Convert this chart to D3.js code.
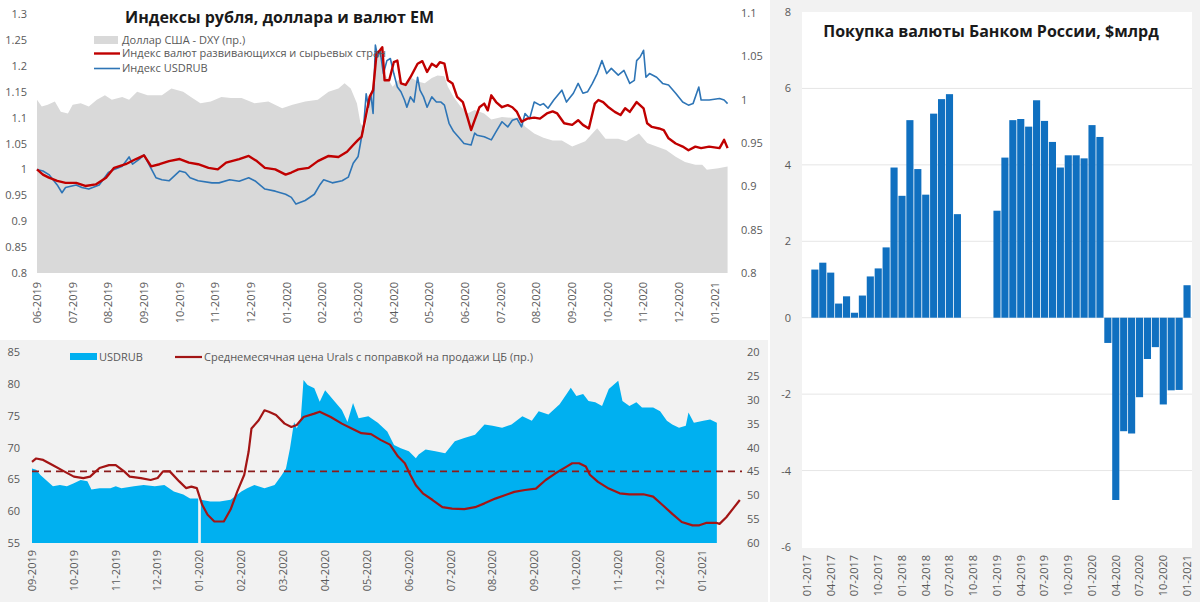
<!DOCTYPE html>
<html><head><meta charset="utf-8">
<script src="https://cdn.jsdelivr.net/npm/d3@7"></script>
<style>
body{margin:0;background:#fff;}
text{font-family:"Open Sans","Noto Sans",sans-serif;}
</style>
</head><body>
<svg id="c" width="1200" height="602"></svg>
<script>
// ---------- DATA ----------
const topMonths = ["06-2019","07-2019","08-2019","09-2019","10-2019","11-2019","12-2019","01-2020","02-2020","03-2020","04-2020","05-2020","06-2020","07-2020","08-2020","09-2020","10-2020","11-2020","12-2020","01-2021"];
const topLeftTicks = [0.8,0.85,0.9,0.95,1,1.05,1.1,1.15,1.2,1.25,1.3];
const topRightTicks = [0.8,0.85,0.9,0.95,1,1.05,1.1];
const topTitle = "Индексы рубля, доллара и валют EM";
const topLegend = ["Доллар США - DXY (пр.)","Индекс валют развивающихся и сырьевых стран","Индекс USDRUB"];

const dxyIndex = [["2019-06-01",1.000],["2019-06-05",0.992],["2019-06-10",0.994],["2019-06-16",0.998],["2019-06-21",0.986],["2019-06-27",0.984],["2019-07-01",0.994],["2019-07-08",0.996],["2019-07-15",0.992],["2019-07-22",1.000],["2019-07-29",1.005],["2019-08-04",1.000],["2019-08-13",1.003],["2019-08-19",1.000],["2019-08-26",1.009],["2019-09-04",1.005],["2019-09-16",1.005],["2019-09-24",1.013],["2019-10-04",1.009],["2019-10-12",1.002],["2019-10-19",0.996],["2019-10-28",0.998],["2019-11-06",1.003],["2019-11-14",1.002],["2019-11-23",1.002],["2019-12-04",0.996],["2019-12-16",0.998],["2019-12-28",0.990],["2020-01-06",0.994],["2020-01-17",0.998],["2020-01-28",1.000],["2020-02-06",1.009],["2020-02-14",1.013],["2020-02-19",1.019],["2020-02-24",1.013],["2020-02-29",0.996],["2020-03-03",0.973],["2020-03-07",0.965],["2020-03-12",1.003],["2020-03-17",1.053],["2020-03-20",1.057],["2020-03-24",1.030],["2020-03-31",1.015],["2020-04-05",1.023],["2020-04-10",1.017],["2020-04-16",1.025],["2020-04-21",1.021],["2020-04-27",1.019],["2020-05-03",1.025],["2020-05-08",1.028],["2020-05-14",1.027],["2020-05-17",1.015],["2020-05-22",1.003],["2020-05-28",0.992],["2020-06-03",0.984],["2020-06-09",0.988],["2020-06-17",0.984],["2020-06-23",0.977],["2020-07-02",0.980],["2020-07-10",0.979],["2020-07-17",0.979],["2020-07-22",0.969],["2020-07-30",0.961],["2020-08-07",0.956],["2020-08-15",0.953],["2020-08-23",0.953],["2020-09-01",0.946],["2020-09-12",0.952],["2020-09-22",0.967],["2020-09-29",0.955],["2020-10-10",0.955],["2020-10-17",0.952],["2020-10-28",0.961],["2020-11-04",0.950],["2020-11-12",0.946],["2020-11-20",0.942],["2020-11-28",0.934],["2020-12-06",0.928],["2020-12-15",0.925],["2020-12-21",0.925],["2020-12-25",0.919],["2021-01-04",0.921],["2021-01-12",0.923]];

const emIndex = [["2019-06-01",1.000],["2019-06-06",0.990],["2019-06-11",0.984],["2019-06-18",0.978],["2019-06-25",0.974],["2019-07-04",0.974],["2019-07-12",0.968],["2019-07-21",0.971],["2019-07-30",0.984],["2019-08-06",1.003],["2019-08-16",1.010],["2019-08-25",1.020],["2019-09-01",1.027],["2019-09-07",1.006],["2019-09-14",1.010],["2019-09-22",1.016],["2019-10-01",1.020],["2019-10-09",1.013],["2019-10-17",1.010],["2019-10-26",1.003],["2019-11-03",1.000],["2019-11-10",1.013],["2019-11-21",1.020],["2019-11-29",1.026],["2019-12-06",1.016],["2019-12-13",1.003],["2019-12-22",1.000],["2019-12-31",0.990],["2020-01-05",0.994],["2020-01-11",1.000],["2020-01-20",1.003],["2020-01-28",1.016],["2020-02-06",1.026],["2020-02-14",1.024],["2020-02-21",1.034],["2020-02-26",1.047],["2020-03-01",1.057],["2020-03-04",1.063],["2020-03-07",1.095],["2020-03-11",1.140],["2020-03-14",1.153],["2020-03-17",1.223],["2020-03-20",1.230],["2020-03-22",1.236],["2020-03-24",1.172],["2020-03-28",1.172],["2020-04-01",1.207],["2020-04-04",1.210],["2020-04-07",1.166],["2020-04-11",1.163],["2020-04-15",1.178],["2020-04-18",1.191],["2020-04-21",1.204],["2020-04-25",1.209],["2020-04-29",1.188],["2020-05-03",1.204],["2020-05-07",1.198],["2020-05-10",1.207],["2020-05-14",1.204],["2020-05-17",1.172],["2020-05-21",1.166],["2020-05-25",1.140],["2020-05-30",1.130],["2020-06-03",1.100],["2020-06-06",1.076],["2020-06-09",1.095],["2020-06-13",1.120],["2020-06-17",1.127],["2020-06-20",1.114],["2020-06-23",1.143],["2020-06-27",1.130],["2020-07-02",1.120],["2020-07-07",1.124],["2020-07-11",1.120],["2020-07-15",1.111],["2020-07-19",1.092],["2020-07-24",1.098],["2020-07-30",1.100],["2020-08-04",1.098],["2020-08-10",1.108],["2020-08-15",1.112],["2020-08-19",1.108],["2020-08-25",1.089],["2020-09-01",1.086],["2020-09-06",1.095],["2020-09-10",1.086],["2020-09-15",1.079],["2020-09-20",1.127],["2020-09-23",1.134],["2020-09-27",1.130],["2020-10-01",1.121],["2020-10-07",1.111],["2020-10-12",1.105],["2020-10-16",1.118],["2020-10-20",1.111],["2020-10-26",1.130],["2020-11-01",1.118],["2020-11-04",1.089],["2020-11-08",1.082],["2020-11-14",1.079],["2020-11-18",1.076],["2020-11-22",1.060],["2020-11-28",1.050],["2020-12-04",1.044],["2020-12-09",1.037],["2020-12-15",1.044],["2020-12-20",1.041],["2020-12-27",1.044],["2021-01-05",1.041],["2021-01-09",1.057],["2021-01-12",1.041]];

const rubIndex = [["2019-06-01",1.000],["2019-06-06",0.997],["2019-06-11",0.990],["2019-06-18",0.970],["2019-06-22",0.955],["2019-06-25",0.965],["2019-07-04",0.970],["2019-07-09",0.965],["2019-07-15",0.962],["2019-07-24",0.970],["2019-08-01",0.994],["2019-08-06",1.000],["2019-08-13",1.006],["2019-08-19",1.024],["2019-08-22",1.010],["2019-08-28",1.020],["2019-09-01",1.028],["2019-09-05",1.010],["2019-09-11",0.984],["2019-09-16",0.980],["2019-09-22",0.978],["2019-10-01",0.997],["2019-10-06",0.994],["2019-10-10",0.984],["2019-10-17",0.978],["2019-10-29",0.974],["2019-11-04",0.974],["2019-11-13",0.980],["2019-11-21",0.977],["2019-11-29",0.984],["2019-12-05",0.977],["2019-12-13",0.962],["2019-12-22",0.958],["2019-12-31",0.952],["2020-01-05",0.946],["2020-01-09",0.933],["2020-01-17",0.940],["2020-01-25",0.952],["2020-01-30",0.971],["2020-02-02",0.980],["2020-02-09",0.974],["2020-02-17",0.978],["2020-02-22",0.985],["2020-02-26",1.012],["2020-03-01",1.025],["2020-03-03",1.050],["2020-03-06",1.089],["2020-03-08",1.146],["2020-03-10",1.120],["2020-03-12",1.146],["2020-03-14",1.108],["2020-03-16",1.240],["2020-03-18",1.217],["2020-03-20",1.230],["2020-03-23",1.185],["2020-03-26",1.210],["2020-03-29",1.214],["2020-04-01",1.185],["2020-04-04",1.159],["2020-04-07",1.150],["2020-04-10",1.134],["2020-04-12",1.120],["2020-04-15",1.140],["2020-04-18",1.130],["2020-04-21",1.178],["2020-04-23",1.153],["2020-04-26",1.140],["2020-04-29",1.120],["2020-05-03",1.140],["2020-05-07",1.130],["2020-05-11",1.130],["2020-05-14",1.124],["2020-05-18",1.089],["2020-05-22",1.073],["2020-05-26",1.063],["2020-05-31",1.050],["2020-06-06",1.047],["2020-06-09",1.070],["2020-06-11",1.066],["2020-06-17",1.063],["2020-06-23",1.057],["2020-06-27",1.073],["2020-07-02",1.092],["2020-07-07",1.082],["2020-07-11",1.095],["2020-07-15",1.098],["2020-07-19",1.082],["2020-07-22",1.108],["2020-07-26",1.098],["2020-07-30",1.130],["2020-08-04",1.124],["2020-08-07",1.127],["2020-08-11",1.118],["2020-08-16",1.134],["2020-08-23",1.153],["2020-08-27",1.130],["2020-09-02",1.147],["2020-09-06",1.166],["2020-09-10",1.147],["2020-09-14",1.150],["2020-09-18",1.166],["2020-09-22",1.185],["2020-09-26",1.210],["2020-09-30",1.185],["2020-10-04",1.195],["2020-10-10",1.182],["2020-10-15",1.191],["2020-10-20",1.166],["2020-10-24",1.172],["2020-10-26",1.210],["2020-10-29",1.217],["2020-11-01",1.230],["2020-11-03",1.178],["2020-11-06",1.185],["2020-11-12",1.178],["2020-11-17",1.166],["2020-11-22",1.163],["2020-11-28",1.147],["2020-12-04",1.130],["2020-12-09",1.124],["2020-12-13",1.127],["2020-12-18",1.159],["2020-12-20",1.134],["2020-12-27",1.134],["2021-01-05",1.137],["2021-01-09",1.134],["2021-01-12",1.127]];

const bottomMonths = ["09-2019","10-2019","11-2019","12-2019","01-2020","02-2020","03-2020","04-2020","05-2020","06-2020","07-2020","08-2020","09-2020","10-2020","11-2020","12-2020","01-2021"];
const bottomLeftTicks = [55,60,65,70,75,80,85];
const bottomRightTicks = [20,25,30,35,40,45,50,55,60];
const bottomLegend = ["USDRUB","Среднемесячная цена Urals с поправкой на продажи ЦБ (пр.)"];
const uralsReference = 45;

const usdrub = [["2019-09-01",66.7],["2019-09-04",66.5],["2019-09-07",65.7],["2019-09-11",64.9],["2019-09-16",63.9],["2019-09-21",64.1],["2019-09-26",63.9],["2019-10-01",64.4],["2019-10-06",64.9],["2019-10-11",64.7],["2019-10-14",63.4],["2019-10-20",63.6],["2019-10-28",63.6],["2019-11-01",63.9],["2019-11-05",63.6],["2019-11-14",63.9],["2019-11-21",64.1],["2019-11-29",63.9],["2019-12-06",64.1],["2019-12-13",63.1],["2019-12-20",62.6],["2019-12-25",62.0],["2019-12-31",62.0],["2020-01-01",null],["2020-01-02",61.8],["2020-01-09",61.5],["2020-01-16",61.5],["2020-01-24",61.8],["2020-02-01",63.1],["2020-02-05",63.6],["2020-02-10",64.1],["2020-02-17",63.6],["2020-02-24",64.1],["2020-02-29",65.7],["2020-03-03",66.7],["2020-03-06",69.9],["2020-03-09",74.0],["2020-03-11",73.0],["2020-03-14",74.6],["2020-03-16",80.6],["2020-03-19",79.8],["2020-03-24",79.3],["2020-03-28",77.2],["2020-04-01",79.0],["2020-04-08",77.2],["2020-04-13",75.9],["2020-04-17",74.0],["2020-04-21",77.0],["2020-04-25",74.6],["2020-05-02",74.9],["2020-05-09",73.9],["2020-05-16",72.5],["2020-05-21",70.4],["2020-05-26",69.9],["2020-06-01",69.4],["2020-06-06",68.3],["2020-06-08",68.9],["2020-06-13",69.7],["2020-06-20",69.4],["2020-06-27",69.1],["2020-07-04",71.0],["2020-07-11",71.5],["2020-07-19",72.0],["2020-07-26",73.6],["2020-08-01",73.4],["2020-08-08",73.1],["2020-08-15",73.6],["2020-08-23",74.9],["2020-08-30",74.2],["2020-09-04",75.7],["2020-09-11",75.2],["2020-09-19",76.8],["2020-09-24",78.4],["2020-09-27",79.4],["2020-10-01",78.1],["2020-10-06",78.4],["2020-10-10",77.3],["2020-10-15",77.1],["2020-10-20",76.5],["2020-10-25",79.2],["2020-11-01",80.5],["2020-11-04",77.3],["2020-11-09",76.5],["2020-11-14",77.1],["2020-11-18",76.3],["2020-11-26",76.3],["2020-12-01",75.7],["2020-12-06",74.2],["2020-12-10",73.6],["2020-12-15",73.1],["2020-12-20",73.4],["2020-12-22",75.5],["2020-12-26",73.9],["2021-01-02",74.2],["2021-01-07",74.4],["2021-01-12",73.9]];

const urals = [["2019-09-01",43.0],["2019-09-04",42.3],["2019-09-09",42.6],["2019-09-16",43.7],["2019-09-24",45.0],["2019-10-01",46.1],["2019-10-08",46.4],["2019-10-13",46.1],["2019-10-20",44.3],["2019-10-27",43.7],["2019-11-01",43.7],["2019-11-07",45.0],["2019-11-11",46.1],["2019-11-19",46.4],["2019-11-26",46.8],["2019-12-01",46.4],["2019-12-05",45.0],["2019-12-10",45.0],["2019-12-17",47.1],["2019-12-22",48.5],["2019-12-26",48.2],["2019-12-30",48.5],["2020-01-03",52.0],["2020-01-07",54.1],["2020-01-12",55.5],["2020-01-19",55.5],["2020-01-24",53.0],["2020-01-29",49.2],["2020-02-03",45.7],["2020-02-06",40.9],["2020-02-08",36.0],["2020-02-13",34.3],["2020-02-17",32.2],["2020-02-20",32.5],["2020-02-25",33.2],["2020-03-02",35.0],["2020-03-07",35.7],["2020-03-11",35.3],["2020-03-16",33.6],["2020-03-24",32.9],["2020-03-28",32.5],["2020-04-05",33.6],["2020-04-13",35.0],["2020-04-20",36.0],["2020-04-27",37.0],["2020-05-04",37.2],["2020-05-11",38.4],["2020-05-18",39.4],["2020-05-24",41.9],["2020-05-29",43.3],["2020-06-02",45.7],["2020-06-06",47.9],["2020-06-11",49.6],["2020-06-18",51.0],["2020-06-25",52.5],["2020-07-02",52.8],["2020-07-11",52.9],["2020-07-19",52.5],["2020-07-26",51.7],["2020-08-03",50.7],["2020-08-10",50.0],["2020-08-17",49.3],["2020-08-25",48.9],["2020-09-02",48.6],["2020-09-09",46.8],["2020-09-16",45.4],["2020-09-24",44.0],["2020-09-28",43.3],["2020-10-03",43.3],["2020-10-08",44.0],["2020-10-11",45.7],["2020-10-17",47.2],["2020-10-25",48.6],["2020-11-02",49.6],["2020-11-09",49.8],["2020-11-19",49.8],["2020-11-26",50.3],["2020-12-03",52.1],["2020-12-10",53.9],["2020-12-17",55.6],["2020-12-25",56.3],["2020-12-30",56.3],["2021-01-04",55.8],["2021-01-12",55.8],["2021-01-14",56.0],["2021-01-19",54.6],["2021-01-24",52.8],["2021-01-29",51.0]];

const cbrTitle = "Покупка валюты Банком России, $млрд";
const cbrMonths = ["01-2017","02-2017","03-2017","04-2017","05-2017","06-2017","07-2017","08-2017","09-2017","10-2017","11-2017","12-2017","01-2018","02-2018","03-2018","04-2018","05-2018","06-2018","07-2018","08-2018","09-2018","10-2018","11-2018","12-2018","01-2019","02-2019","03-2019","04-2019","05-2019","06-2019","07-2019","08-2019","09-2019","10-2019","11-2019","12-2019","01-2020","02-2020","03-2020","04-2020","05-2020","06-2020","07-2020","08-2020","09-2020","10-2020","11-2020","12-2020","01-2021"];
const cbrPurchases = [0,1.26,1.44,1.18,0.37,0.56,0.13,0.58,1.08,1.29,1.84,3.93,3.19,5.17,3.89,3.22,5.34,5.72,5.85,2.71,0,0,0,0,2.80,4.19,5.17,5.20,5.00,5.69,5.15,4.60,3.93,4.25,4.25,4.17,5.04,4.73,-0.66,-4.77,-2.97,-3.03,-2.08,-1.08,-0.77,-2.27,-1.90,-1.89,0.85];
const cbrTicks = [-6,-4,-2,0,2,4,6,8];

// ---------- DRAW ----------
const svg = d3.select("#c");
const pd = d3.timeParse("%Y-%m-%d");
const pm = d3.timeParse("%m-%Y");
const tickColor = "#595959";

// panels
svg.append("rect").attr("x",0).attr("y",0).attr("width",768).attr("height",338).attr("fill","#ffffff");
svg.append("rect").attr("x",0).attr("y",340).attr("width",768).attr("height",262).attr("fill","#f2f2f2");
svg.append("rect").attr("x",770).attr("y",0).attr("width",430).attr("height",602).attr("fill","#f2f2f2");
svg.append("rect").attr("x",802).attr("y",12).attr("width",390).attr("height",536).attr("fill","#ffffff");

function monthScale(labels, x0, step){
  const dates = labels.map(pm);
  dates.push(d3.timeMonth.offset(dates[dates.length-1],1));
  return d3.scaleTime().domain(dates).range(dates.map((d,i)=>x0+i*step));
}
function yAxis(g, scale, ticks, fmt, side){
  const ax = (side==="left"? d3.axisLeft(scale): d3.axisRight(scale)).tickValues(ticks).tickSize(0).tickPadding(0).tickFormat(fmt);
  g.call(ax);
  g.select(".domain").remove();
  g.selectAll("text").attr("fill",tickColor).style("font-size","11px").style("font-family","'Open Sans',sans-serif");
}
function xLabels(g, labels, scale, yTop){
  g.selectAll("text").data(labels).join("text")
    .attr("transform", d => `translate(${scale(d)},${yTop}) rotate(-90)`)
    .attr("text-anchor","end").attr("dy","0.35em")
    .attr("fill",tickColor).style("font-size","11px")
    .text(d=>d);
}

// ===== Top-left chart =====
const xT = monthScale(topMonths, 37, 35.68);
const yTL = d3.scaleLinear().domain([0.8,1.3]).range([273,14]);
const yTR = d3.scaleLinear().domain([0.8,1.1]).range([273,13]);
const fmt2 = d => String(+d.toFixed(2));

svg.append("path").datum(dxyIndex)
  .attr("fill","#d9d9d9")
  .attr("d", d3.area().x(d=>xT(pd(d[0]))).y0(yTR(0.8)).y1(d=>yTR(d[1])));

const lineT = d3.line().x(d=>xT(pd(d[0]))).y(d=>yTL(d[1]));
svg.append("path").datum(rubIndex).attr("fill","none").attr("stroke","#2e75b6").attr("stroke-width",1.6).attr("stroke-linejoin","round").attr("d",lineT);
svg.append("path").datum(emIndex).attr("fill","none").attr("stroke","#c00000").attr("stroke-width",2.4).attr("stroke-linejoin","round").attr("d",lineT);

yAxis(svg.append("g").attr("transform","translate(27,0)"), yTL, topLeftTicks, fmt2, "left");
yAxis(svg.append("g").attr("transform","translate(741,0)"), yTR, topRightTicks, fmt2, "right");
xLabels(svg.append("g"), topMonths, d=>xT(pm(d)), 282);

svg.append("text").attr("x",125).attr("y",23).style("font-size","16px").style("font-weight","700").attr("fill","#1a1a1a").text(topTitle);

// legend top
const lg = svg.append("g").style("font-size","11px");
lg.append("rect").attr("x",94).attr("y",36).attr("width",24).attr("height",8).attr("fill","#d9d9d9");
lg.append("line").attr("x1",94).attr("x2",120).attr("y1",53.5).attr("y2",53.5).attr("stroke","#c00000").attr("stroke-width",2.4);
lg.append("line").attr("x1",94).attr("x2",120).attr("y1",68.5).attr("y2",68.5).attr("stroke","#2e75b6").attr("stroke-width",1.6);
[40,53.5,68.5].forEach((y,i)=>{
  lg.append("text").attr("x",122).attr("y",y).attr("dy","0.35em").attr("fill","#595959").text(topLegend[i]);
});

// ===== Bottom-left chart =====
const xB = monthScale(bottomMonths, 32, 41.875);
const yBL = d3.scaleLinear().domain([55,85]).range([543,352]);
const yBR = d3.scaleLinear().domain([20,60]).range([352,543]);

svg.append("path").datum(usdrub)
  .attr("fill","#00b0f0")
  .attr("d", d3.area().defined(d=>d[1]!=null).x(d=>xB(pd(d[0]))).y0(yBL(55)).y1(d=>yBL(d[1])));

svg.append("line").attr("x1",xB(pm(bottomMonths[0]))).attr("x2",742)
  .attr("y1",yBR(uralsReference)).attr("y2",yBR(uralsReference))
  .attr("stroke","#8b1c1c").attr("stroke-width",1.6).attr("stroke-dasharray","7,5");

svg.append("path").datum(urals).attr("fill","none").attr("stroke","#a31515").attr("stroke-width",2.2).attr("stroke-linejoin","round")
  .attr("d", d3.line().x(d=>xB(pd(d[0]))).y(d=>yBR(d[1])));

yAxis(svg.append("g").attr("transform","translate(20,0)"), yBL, bottomLeftTicks, d=>d, "left");
yAxis(svg.append("g").attr("transform","translate(747,0)"), yBR, bottomRightTicks, d=>d, "right");
xLabels(svg.append("g"), bottomMonths, d=>xB(pm(d)), 550);

const lb = svg.append("g").style("font-size","11px");
lb.append("rect").attr("x",70).attr("y",353).attr("width",27).attr("height",7).attr("fill","#00b0f0");
lb.append("text").attr("x",99).attr("y",357).attr("dy","0.35em").attr("fill","#595959").text(bottomLegend[0]);
lb.append("line").attr("x1",175).attr("x2",202).attr("y1",357).attr("y2",357).attr("stroke","#a31515").attr("stroke-width",2.2);
lb.append("text").attr("x",204).attr("y",357).attr("dy","0.35em").attr("fill","#595959").text(bottomLegend[1]);

// ===== Right bar chart =====
const xR = d3.scaleBand().domain(cbrMonths).range([803,1191]).paddingInner(0.1).paddingOuter(0.05);
const yR = d3.scaleLinear().domain([-6,8]).range([547,12]);

svg.append("g").selectAll("line").data(cbrTicks.filter(t=>t>-6 && t<8)).join("line")
  .attr("x1",802).attr("x2",1192).attr("y1",d=>yR(d)).attr("y2",d=>yR(d))
  .attr("stroke","#e6e6e6").attr("stroke-width",1);

svg.append("g").selectAll("rect").data(cbrPurchases.map((v,i)=>({m:cbrMonths[i],v}))).join("rect")
  .attr("x",d=>xR(d.m)).attr("width",xR.bandwidth())
  .attr("y",d=>yR(Math.max(0,d.v))).attr("height",d=>Math.abs(yR(d.v)-yR(0)))
  .attr("fill","#1070c0");

yAxis(svg.append("g").attr("transform","translate(791,0)"), yR, cbrTicks, d=>d, "left");
xLabels(svg.append("g"), cbrMonths.filter((d,i)=>i%3===0), d=>xR(d)+xR.bandwidth()/2, 555);

svg.append("text").attr("x",991).attr("y",37).attr("text-anchor","middle").style("font-size","16px").style("font-weight","700").attr("fill","#1a1a1a").text(cbrTitle);
</script>
</body></html>
